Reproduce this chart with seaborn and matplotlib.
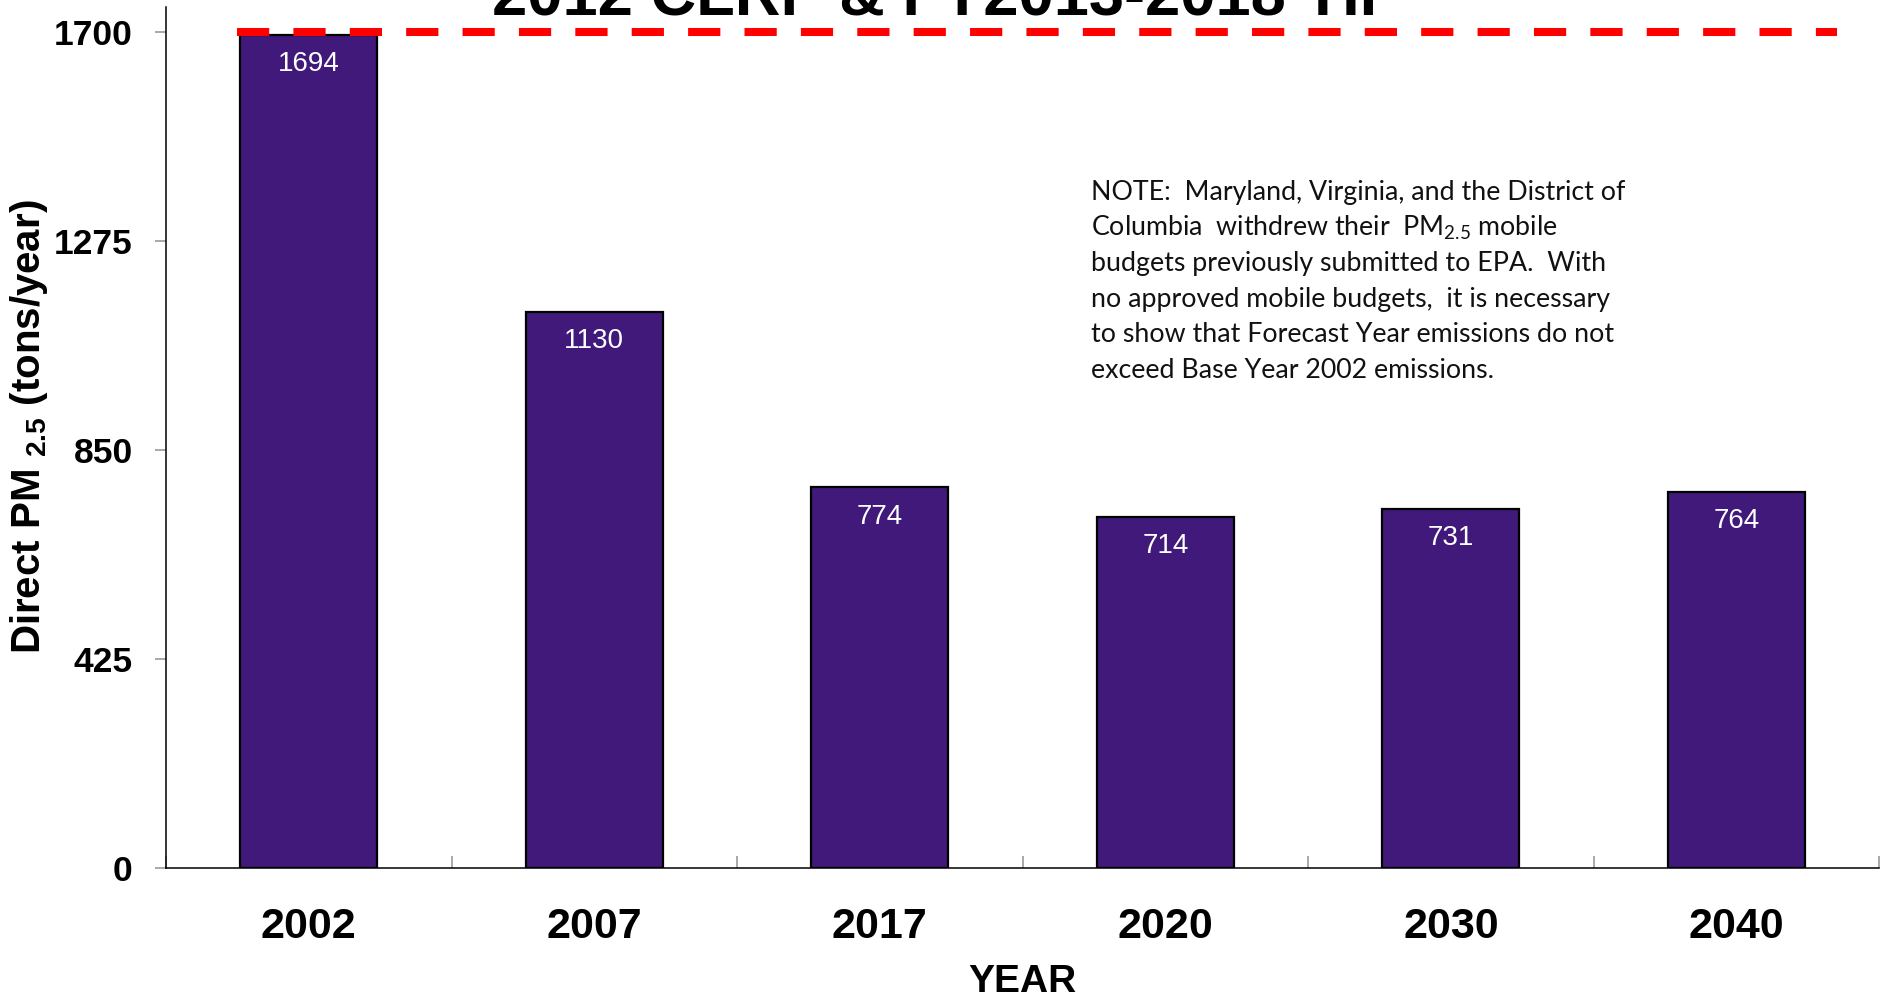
# =========================================
# DIRECT PM2.5 EMISSIONS BY YEAR
# =========================================

import matplotlib

matplotlib.use("Agg")

import matplotlib.pyplot as plt
import seaborn as sns
import pandas as pd


# =========================================
# DATA
# =========================================

years = ["2002", "2007", "2017", "2020", "2030", "2040"]

emissions = [1694, 1130, 774, 714, 731, 764]

base_level = 1700

y_ticks = [0, 425, 850, 1275, 1700]

chart_title = "2012 CLRP & FY2013-2018 TIP"

note_lines = [
    "NOTE:  Maryland, Virginia, and the District of",
    r"Columbia  withdrew their  PM$\mathregular{_{2.5}}$ mobile",
    "budgets previously submitted to EPA.  With",
    "no approved mobile budgets,  it is necessary",
    "to show that Forecast Year emissions do not",
    "exceed Base Year 2002 emissions.",
]

df = pd.DataFrame({"year": years, "emissions": emissions})


# =========================================
# STYLE
# =========================================

sns.set_style("white")

plt.rcParams["font.family"] = ["Liberation Sans", "DejaVu Sans"]
plt.rcParams["text.color"] = "black"
plt.rcParams["axes.labelcolor"] = "black"
plt.rcParams["xtick.labelcolor"] = "black"
plt.rcParams["ytick.labelcolor"] = "black"

narrow = ["Liberation Sans Narrow", "Liberation Sans"]

bar_color = "#40197a"


# =========================================
# FIGURE
# =========================================

fig = plt.figure(figsize=(18.87, 10), dpi=100)

ax = fig.add_axes([0.088, 0.132, 0.9078, 0.861])

sns.barplot(
    data=df,
    x="year",
    y="emissions",
    color=bar_color,
    saturation=1,
    width=0.48,
    edgecolor="black",
    linewidth=1.6,
    ax=ax
)

ax.set_xlim(-0.5, len(years) - 0.5)

ax.set_ylim(0, base_level * 861 / 836)


# Base year line

ax.hlines(
    base_level,
    -0.25,
    5.353,
    colors="#ff0000",
    linewidth=5.8,
    linestyles=(0, (4, 3)),
    zorder=5
)


# Value labels inside bars

for i, v in enumerate(emissions):

    ax.annotate(
        str(v),
        (i, v),
        xytext=(0, -21),
        textcoords="offset points",
        ha="center",
        va="center",
        color="white",
        fontsize=20
    )


# =========================================
# AXES
# =========================================

for side in ["top", "right"]:
    ax.spines[side].set_visible(False)

for side in ["left", "bottom"]:
    ax.spines[side].set_color("black")
    ax.spines[side].set_linewidth(1.1)

ax.set_yticks(y_ticks)

ax.set_yticklabels([str(t) for t in y_ticks])

ax.tick_params(
    axis="y",
    left=True,
    direction="out",
    length=8,
    width=1.2,
    color="#999999",
    pad=16,
    labelsize=25.5
)

for lbl in ax.get_yticklabels():
    lbl.set_fontweight("bold")

ax.set_xticks(range(len(years)), minor=False)

ax.set_xticks([i - 0.5 for i in range(len(years) + 1)], minor=True)

ax.tick_params(
    axis="x",
    which="major",
    bottom=True,
    length=0,
    pad=28,
    labelsize=31
)

ax.tick_params(
    axis="x",
    which="minor",
    bottom=True,
    direction="in",
    length=9,
    width=1.2,
    color="#999999"
)

for lbl in ax.get_xticklabels():
    lbl.set_fontfamily(narrow)
    lbl.set_fontweight("bold")

ax.set_xlabel("YEAR", fontsize=28, fontweight="bold")

ax.xaxis.set_label_coords(0.5, -0.112)

ax.set_ylabel(
    r"Direct PM $\mathregular{_{2.5}}$ (tons/year)",
    fontsize=29,
    fontweight="bold"
)

ax.yaxis.set_label_coords(-0.068, 0.512)


# =========================================
# TITLE AND NOTE
# =========================================

fig.text(
    0.502,
    0.985,
    chart_title,
    ha="center",
    va="baseline",
    fontsize=45.5,
    fontweight="bold"
)

for k, line in enumerate(note_lines):

    fig.text(
        1091 / 1887,
        1 - (200 + 35.5 * k) / 1000,
        line,
        ha="left",
        va="baseline",
        fontsize=19.3,
        family=["Lato", "DejaVu Sans"],
        color="#111111"
    )


# =========================================
# SAVE
# =========================================

fig.savefig("out.png", dpi=100)
